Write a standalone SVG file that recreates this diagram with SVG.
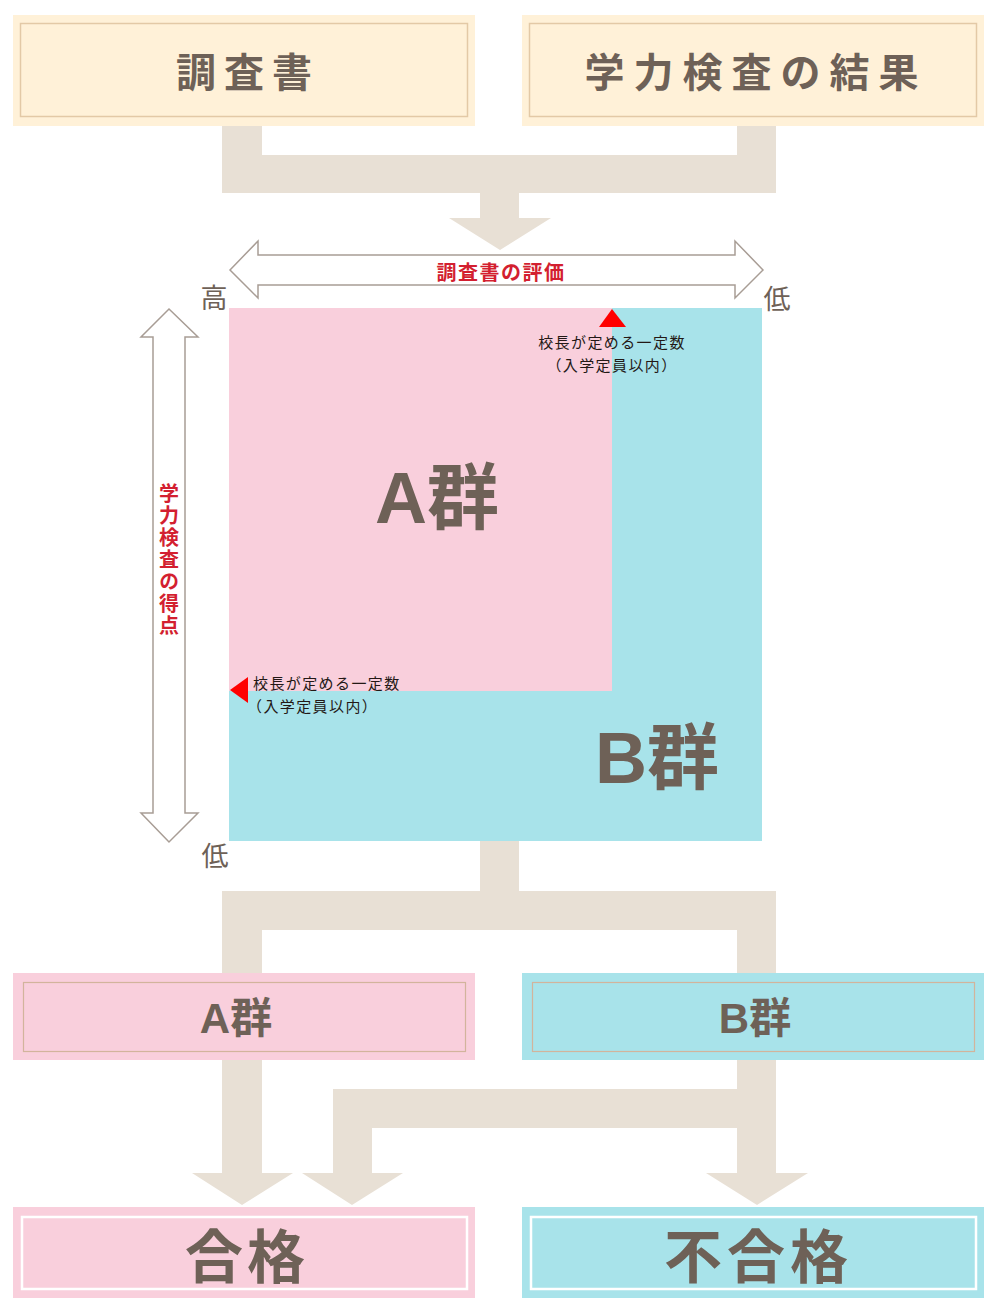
<svg xmlns="http://www.w3.org/2000/svg" width="1000" height="1311" viewBox="0 0 1000 1311">
<style>
.conn{fill:#e8e0d5}
.cream{fill:#fff1d8}
.creamIn{fill:none;stroke:#e3c9a6;stroke-width:1.5}
.pink{fill:#f9cfdc}
.cyan{fill:#a8e3ea}
.tanIn{fill:none;stroke:#d2b49c;stroke-width:1.2}
.whiteIn{fill:none;stroke:#ffffff;stroke-width:2.5}
.ttl{font-family:"Noto Sans CJK JP",sans-serif;font-weight:700;fill:#6e6157;dominant-baseline:central;text-anchor:middle}
.big{font-family:"Liberation Sans","Noto Sans CJK JP",sans-serif;font-weight:700;fill:#6e6157;text-anchor:middle}
.axis{fill:#ffffff;stroke:#a89d95;stroke-width:1.5}
.red{font-family:"Noto Sans CJK JP",sans-serif;font-weight:700;fill:#d31f30;font-size:20px}
.hl{font-family:"Noto Sans CJK JP",sans-serif;fill:#6e6157;font-size:27px;dominant-baseline:central;text-anchor:middle}
.note{font-family:"Noto Sans CJK JP",sans-serif;fill:#231815;font-size:15px;dominant-baseline:central;letter-spacing:1.4px}
.tri{fill:#ff0000}
</style>

<g id="connectors">
<path class="conn" d="M222,124 L262,124 L262,155 L737,155 L737,124 L776,124 L776,193 L519,193 L519,218 L551,218 L500,250 L449,218 L480,218 L480,193 L222,193 Z"/>
<path class="conn" d="M480,840 L519,840 L519,891 L776,891 L776,974 L737,974 L737,930 L262,930 L262,974 L222,974 L222,891 L480,891 Z"/>
<path class="conn" d="M222,1059 L262,1059 L262,1173 L293,1173 L242,1205 L192,1173 L222,1173 Z"/>
<path class="conn" d="M737,1059 L776,1059 L776,1173 L808,1173 L757,1205 L706,1173 L737,1173 L737,1128 L372,1128 L372,1173 L403,1173 L352,1205 L302,1173 L333,1173 L333,1089 L737,1089 Z"/>
</g>

<g id="node-chosasho">
<rect class="cream" x="13" y="15" width="462" height="111"/>
<rect class="creamIn" x="20.5" y="23.5" width="447" height="93"/>
<text class="ttl" x="248" y="70" font-size="40" letter-spacing="8">調査書</text>
</g>

<g id="node-gakuryoku">
<rect class="cream" x="522" y="15" width="462" height="111"/>
<rect class="creamIn" x="529.5" y="23.5" width="447" height="93"/>
<text class="ttl" x="756" y="70" font-size="40" letter-spacing="9">学力検査の結果</text>
</g>

<g id="chart">
<rect class="cyan" x="229" y="308" width="533" height="533"/>
<rect class="pink" x="229" y="308" width="383" height="383"/>
<text class="big" x="437" y="523" font-size="72">A群</text>
<text class="big" x="657" y="783" font-size="72">B群</text>
<polygon class="tri" points="612,309 599,327 626,327"/>
<text class="note" text-anchor="middle"><tspan x="612" y="341">校長が定める一定数</tspan><tspan x="612" y="364">（入学定員以内）</tspan></text>
<polygon class="tri" points="230,690 248,677 248,703"/>
<text class="note"><tspan x="253" y="682">校長が定める一定数</tspan><tspan x="247" y="705">（入学定員以内）</tspan></text>
</g>

<g id="axis-horizontal">
<polygon class="axis" points="230,270 258,241 258,255 735,255 735,241 763,270 735,298 735,285 258,285 258,298"/>
<text class="red" x="501" y="271" text-anchor="middle" dominant-baseline="central" letter-spacing="1.5">調査書の評価</text>
<text class="hl" x="214" y="296">高</text>
<text class="hl" x="777" y="297">低</text>
</g>

<g id="axis-vertical">
<polygon class="axis" points="169,309 198,337 185,337 185,813 198,813 169,842 141,813 153,813 153,337 141,337"/>
<text class="red" x="169" y="483" style="writing-mode:vertical-rl" letter-spacing="2">学力検査の得点</text>
<text class="hl" x="215" y="854">低</text>
</g>

<g id="node-A">
<rect class="pink" x="13" y="973" width="462" height="87"/>
<rect class="tanIn" x="23.5" y="982.5" width="442" height="69"/>
<text class="big" x="236" y="1033" font-size="42">A群</text>
</g>

<g id="node-B">
<rect class="cyan" x="522" y="973" width="462" height="87"/>
<rect class="tanIn" x="532.5" y="982.5" width="442" height="69"/>
<text class="big" x="755" y="1033" font-size="42">B群</text>
</g>

<g id="node-pass">
<rect class="pink" x="13" y="1207" width="462" height="91"/>
<rect class="whiteIn" x="22" y="1217" width="445" height="72"/>
<text class="ttl" x="247" y="1253" font-size="58" letter-spacing="4">合格</text>
</g>

<g id="node-fail">
<rect class="cyan" x="522" y="1207" width="462" height="91"/>
<rect class="whiteIn" x="531" y="1217" width="445" height="72"/>
<text class="ttl" x="758.5" y="1253" font-size="58" letter-spacing="5">不合格</text>
</g>
</svg>
